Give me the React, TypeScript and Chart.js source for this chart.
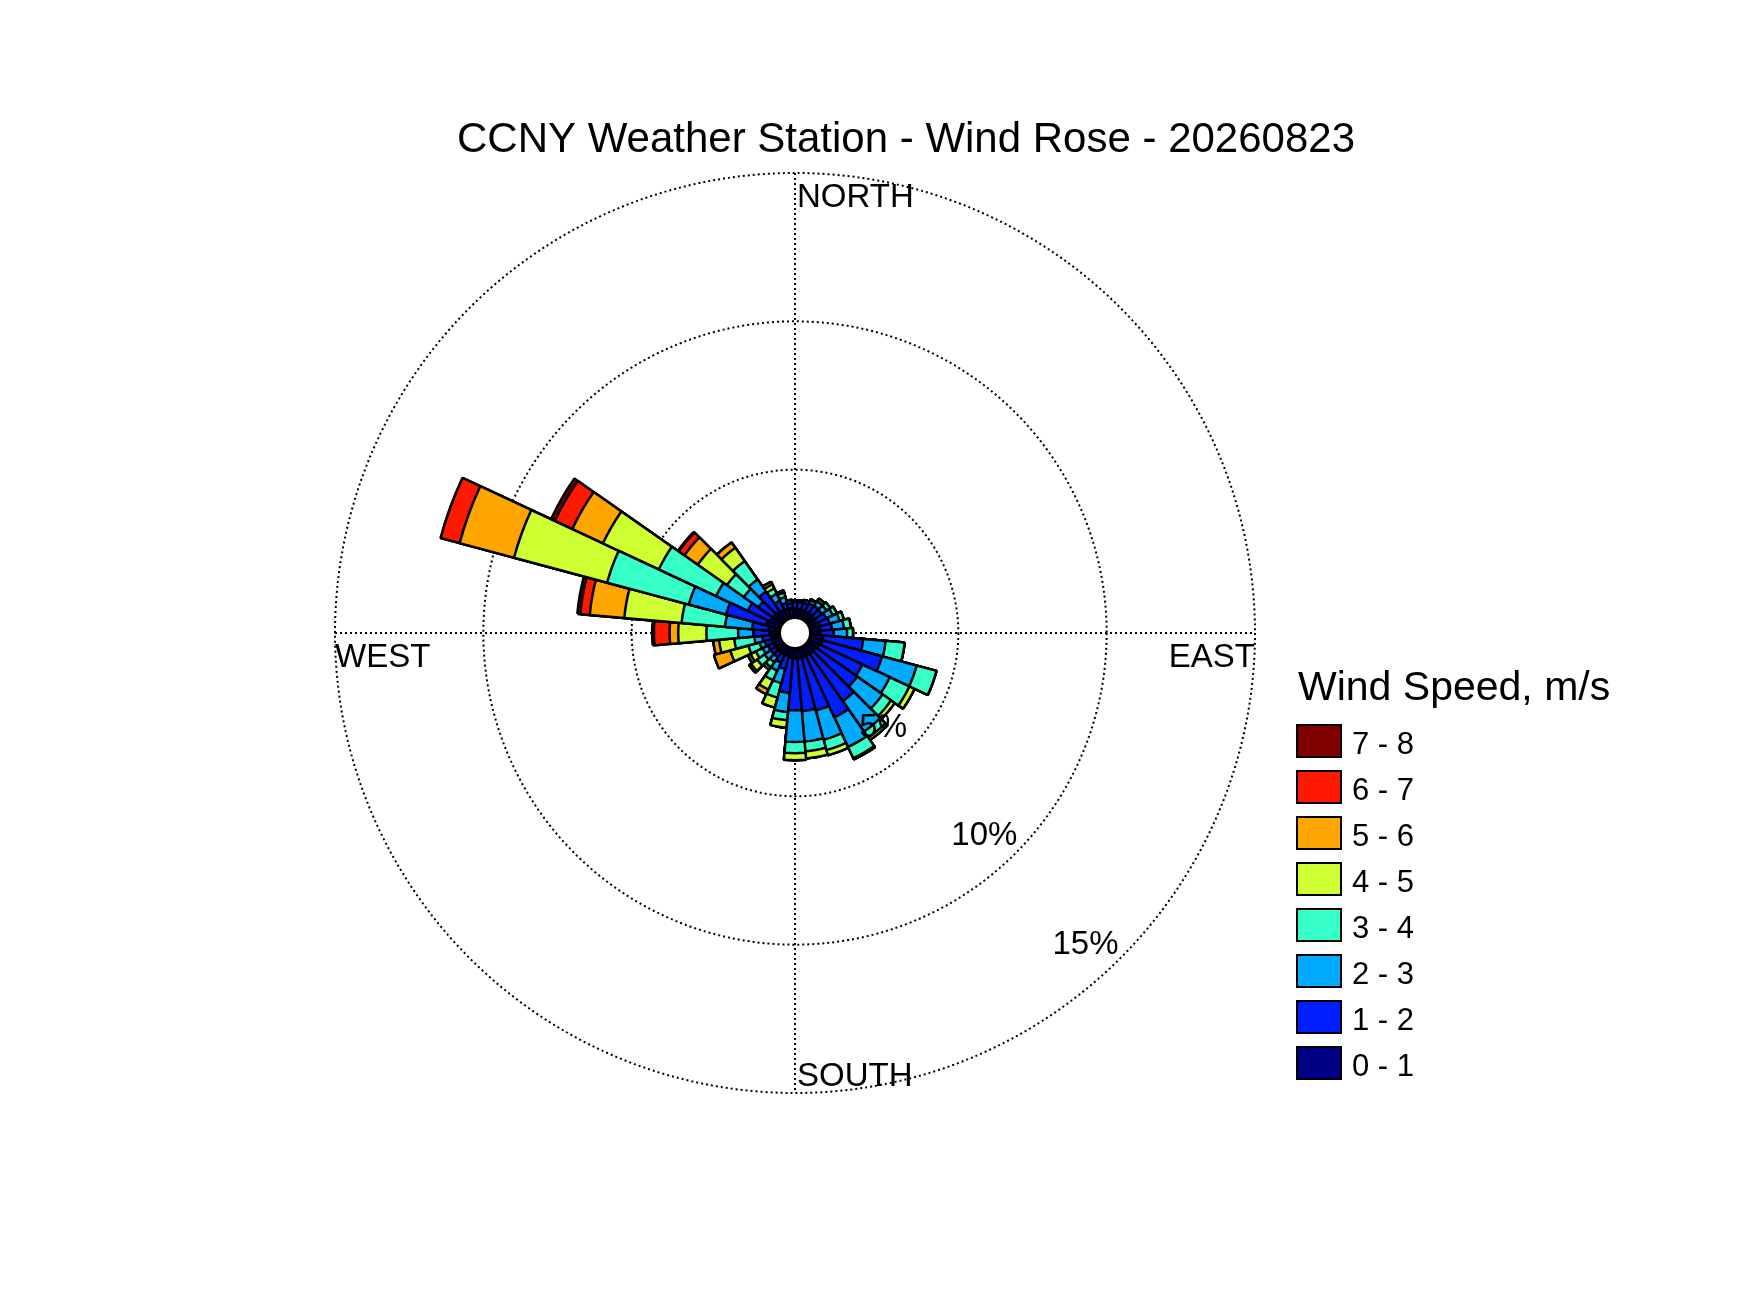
import { useEffect, useRef } from "react"
import { Chart, registerables } from "chart.js"

Chart.register(...registerables)

// wind direction bins (degrees, centre of each 10° sector)
const directions = [
  0, 10, 20, 30, 40, 50, 60, 70, 80, 90, 100, 110, 120, 130, 140, 150, 160, 170,
  180, 190, 200, 210, 220, 230, 240, 250, 260, 270, 280, 290, 300, 310, 320, 330, 340, 350,
]

const speedBins = ["0 - 1", "1 - 2", "2 - 3", "3 - 4", "4 - 5", "5 - 6", "6 - 7", "7 - 8"]
const binColors = ["#000087", "#001EFF", "#00AAFF", "#37FFC8", "#CDFF32", "#FFA500", "#FF1900", "#800000"]

// frequency (%) per direction for each speed class
const speed0to1 = [
  0.33, 0.3, 0.3, 0.3, 0.3, 0.3, 0.3, 0.35, 0.35, 0.35, 0.45, 0.45, 0.4, 0.35, 0.35, 0.35, 0.35, 0.35,
  0.35, 0.33, 0.3, 0.3, 0.3, 0.3, 0.3, 0.3, 0.3, 0.35, 0.4, 0.5, 0.4, 0.4, 0.4, 0.35, 0.35, 0.33,
]
const speed1to2 = [
  0.22, 0.25, 0.25, 0.3, 0.32, 0.3, 0.35, 0.35, 0.4, 0.45, 1.35, 2.08, 1.6, 1.7, 1.95, 2.28, 1.85, 1.79,
  1.75, 1.19, 0.45, 0.3, 0.2, 0.2, 0.2, 0.25, 0.3, 0.55, 0.55, 1.4, 0.85, 0.6, 0.8, 0.35, 0.2, 0.17,
]
const speed2to3 = [
  0.05, 0.05, 0.1, 0.12, 0.18, 0.2, 0.25, 0.35, 0.4, 0.45, 0.76, 1.21, 1.02, 1.05, 1.25, 1.1, 1.02, 1.03,
  1.07, 0.65, 0.5, 0.3, 0.2, 0.25, 0.2, 0.18, 0.27, 0.51, 0.91, 1.3, 1.18, 0.6, 0.5, 0.25, 0.2, 0.1,
]
const speed3to4 = [
  0, 0, 0, 0.03, 0.1, 0.15, 0.15, 0.15, 0.23, 0.2, 0.64, 0.69, 0.73, 0.35, 0.25, 0.42, 0.36, 0.33,
  0.38, 0.28, 0.5, 0.35, 0.2, 0.3, 0.25, 0.39, 0.68, 1.07, 1.47, 2.85, 2.13, 0.7, 0.75, 0.2, 0.15, 0.02,
]
const speed4to5 = [
  0, 0, 0, 0, 0, 0, 0, 0, 0, 0, 0, 0, 0.19, 0.15, 0.1, 0.04, 0.18, 0.24,
  0.23, 0.25, 0.35, 0.35, 0.1, 0.25, 0.2, 0.63, 0.51, 0.95, 1.94, 3.25, 2.08, 1.2, 0.55, 0.15, 0.05, 0,
]
const speed5to6 = [
  0, 0, 0, 0, 0, 0, 0, 0, 0, 0, 0, 0, 0, 0, 0, 0, 0, 0,
  0, 0, 0, 0.17, 0, 0.08, 0.1, 0.57, 0.2, 0.29, 1.17, 1.9, 1.14, 0.55, 0.22, 0.1, 0.03, 0,
]
const speed6to7 = [
  0, 0, 0, 0, 0, 0, 0, 0, 0, 0, 0, 0, 0, 0, 0, 0, 0, 0,
  0, 0, 0, 0, 0, 0, 0, 0, 0, 0.53, 0.32, 0.66, 0.65, 0.23, 0, 0, 0, 0,
]
const speed7to8 = [
  0, 0, 0, 0, 0, 0, 0, 0, 0, 0, 0, 0, 0, 0, 0, 0, 0, 0,
  0, 0, 0, 0, 0, 0, 0, 0, 0, 0.06, 0.1, 0, 0.14, 0.04, 0, 0, 0, 0,
]

const ringTicks = [5, 10, 15]
const titleText = "CCNY Weather Station - Wind Rose - 20260823"
const legendTitle = "Wind Speed, m/s"

const FONT = '"Liberation Sans", Arial, Helvetica, sans-serif'
const HOLE = 0.5056 // empty centre, in % units

const speedClasses = [speed0to1, speed1to2, speed2to3, speed3to4, speed4to5, speed5to6, speed6to7, speed7to8]

// polar area can't stack, so each dataset holds the running total
const stacked = speedClasses.map((_, k) =>
  directions.map((_, i) => speedClasses.slice(0, k + 1).reduce((sum, arr) => sum + arr[i], 0))
)

const roseDecor = {
  id: "roseDecor",
  beforeDatasetsDraw(chart: any) {
    const { ctx } = chart
    const r = chart.scales.r
    const cx = r.xCenter
    const cy = r.yCenter
    const R = r.getDistanceFromCenterForValue(r.max)
    ctx.save()
    ctx.strokeStyle = "#000"
    ctx.lineWidth = 2
    ctx.setLineDash([2, 3])
    ctx.beginPath()
    ctx.moveTo(cx, cy - R)
    ctx.lineTo(cx, cy + R)
    ctx.moveTo(cx - R, cy)
    ctx.lineTo(cx + R, cy)
    ctx.stroke()
    ctx.restore()
  },
  afterDatasetsDraw(chart: any) {
    const { ctx } = chart
    const r = chart.scales.r
    const cx = r.xCenter
    const cy = r.yCenter
    const R = r.getDistanceFromCenterForValue(r.max)

    // white hole in the middle
    ctx.save()
    ctx.beginPath()
    ctx.arc(cx, cy, r.getDistanceFromCenterForValue(0), 0, Math.PI * 2)
    ctx.fillStyle = "#fff"
    ctx.fill()
    ctx.lineWidth = 2
    ctx.strokeStyle = "#000"
    ctx.stroke()

    ctx.fillStyle = "#000"
    ctx.font = `33px ${FONT}`

    // ring labels along the south-east diagonal
    const ang = (47 * Math.PI) / 180
    ctx.textAlign = "center"
    ctx.textBaseline = "middle"
    ringTicks.forEach((v) => {
      const d = r.getDistanceFromCenterForValue(v) - 34
      ctx.fillText(`${v}%`, cx + d * Math.cos(ang), cy + d * Math.sin(ang))
    })

    ctx.textBaseline = "alphabetic"
    ctx.textAlign = "left"
    ctx.fillText("NORTH", cx + 2, cy - R + 34)
    ctx.fillText("SOUTH", cx + 2, cy + R - 7)
    ctx.fillText("WEST", cx - R, cy + 34)
    ctx.textAlign = "right"
    ctx.fillText("EAST", cx + R, cy + 34)
    ctx.restore()
  },
  afterDraw(chart: any) {
    const { ctx } = chart
    ctx.save()
    ctx.fillStyle = "#000"
    ctx.textBaseline = "alphabetic"
    ctx.textAlign = "center"
    ctx.font = `42px ${FONT}`
    ctx.fillText(titleText, 906, 152)

    // legend, highest class on top
    ctx.textAlign = "left"
    ctx.font = `41px ${FONT}`
    ctx.fillText(legendTitle, 1298, 700)
    ctx.font = `31px ${FONT}`
    ctx.lineWidth = 2
    ctx.strokeStyle = "#000"
    for (let j = 0; j < speedBins.length; j++) {
      const k = speedBins.length - 1 - j
      const top = 725 + j * 46
      ctx.fillStyle = binColors[k]
      ctx.fillRect(1297, top, 44, 32)
      ctx.strokeRect(1297, top, 44, 32)
      ctx.fillStyle = "#000"
      ctx.fillText(speedBins[k], 1352, top + 28.5)
    }
    ctx.restore()
  },
}

export default function App() {
  const chartRef = useRef<HTMLCanvasElement>(null)
  const chartInstance = useRef<Chart | null>(null)

  useEffect(() => {
    if (!chartRef.current) return
    if (chartInstance.current) chartInstance.current.destroy()

    const ctx = chartRef.current.getContext("2d")
    if (!ctx) return

    chartInstance.current = new Chart(ctx, {
      type: "polarArea",
      data: {
        labels: directions.map((d) => `${d}°`),
        datasets: speedBins.map((bin, k) => ({
          label: bin,
          data: stacked[k],
          backgroundColor: binColors[k],
          borderColor: "#000",
          borderWidth: 2.5,
        })),
      },
      options: {
        responsive: true,
        maintainAspectRatio: false,
        animation: false,
        layout: { padding: { left: 335, right: 495, top: 173, bottom: 220 } },
        plugins: {
          legend: { display: false },
          tooltip: { enabled: false },
        },
        scales: {
          r: {
            min: -HOLE,
            max: 15,
            startAngle: -5,
            ticks: { display: false, stepSize: 5 },
            pointLabels: { display: false },
            angleLines: { display: false },
            grid: {
              circular: true,
              lineWidth: 2,
              color: (c: any) => (c.tick && c.tick.value >= 5 ? "#000" : "transparent"),
            },
            border: { dash: [2, 3] },
          },
        },
      } as any,
      plugins: [roseDecor],
    })

    return () => {
      if (chartInstance.current) {
        chartInstance.current.destroy()
        chartInstance.current = null
      }
    }
  }, [])

  return (
    <div style={{ position: "absolute", left: 0, top: 0, width: 1750, height: 1313, background: "#fff" }}>
      <canvas ref={chartRef} />
    </div>
  )
}
